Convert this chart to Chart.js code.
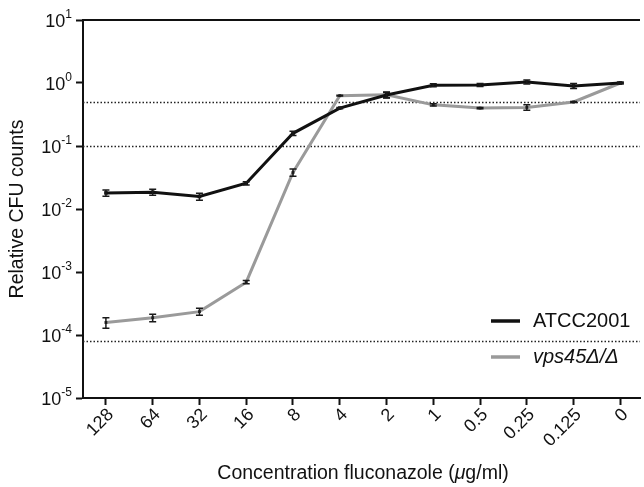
<!DOCTYPE html>
<html>
<head>
<meta charset="utf-8">
<script src="https://cdn.jsdelivr.net/npm/chart.js@4.4.0/dist/chart.umd.min.js"></script>
<style>
  body { margin: 0; background: #fff; }
  #wrap { width: 644px; height: 487px; position: relative; }
</style>
</head>
<body>
<div id="wrap"><canvas id="myChart" width="644" height="487"></canvas></div>
<script>
// doses in ug/ml, high to low
const doses = ["128", "64", "32", "16", "8", "4", "2", "1", "0.5", "0.25", "0.125", "0"];

const atcc = [0.018, 0.0185, 0.0158, 0.0256, 0.159, 0.40, 0.645, 0.92, 0.93, 1.04, 0.90, 1.0];
const atccErr = [0.002, 0.002, 0.002, 0.0015, 0.012, 0.01, 0.06, 0.05, 0.05, 0.08, 0.08, 0.04];

const vps45 = [0.000158, 0.000188, 0.000235, 0.00069, 0.038, 0.63, 0.65, 0.45, 0.40, 0.41, 0.50, 1.0];
const vps45Err = [0.00003, 0.000025, 0.00003, 0.00004, 0.005, 0.01, 0.07, 0.02, 0.01, 0.04, 0.01, 0.01];

const yTicks = [1e-5, 1e-4, 1e-3, 1e-2, 1e-1, 1, 10];
const yExp = ["-5", "-4", "-3", "-2", "-1", "0", "1"];
const cutoffs = [0.5, 0.1, 0.00008];

const FONT = "'Liberation Sans', Arial, sans-serif";

function toPts(arr) {
  return arr.map((v, i) => ({ x: i, y: v }));
}

const extras = {
  id: "extras",
  beforeDatasetsDraw(chart) {
    const ctx = chart.ctx;
    const { left, right, top } = chart.chartArea;
    const y = chart.scales.y;
    ctx.save();
    // dotted cut-off lines
    ctx.strokeStyle = "#222";
    ctx.lineWidth = 1.3;
    ctx.setLineDash([1.5, 2]);
    cutoffs.forEach((c) => {
      const py = Math.round(y.getPixelForValue(c)) + 0.5;
      ctx.beginPath();
      ctx.moveTo(left, py);
      ctx.lineTo(right, py);
      ctx.stroke();
    });
    ctx.setLineDash([]);
    // top frame line
    ctx.lineWidth = 2;
    ctx.strokeStyle = "#111";
    ctx.beginPath();
    ctx.moveTo(left - 1, top);
    ctx.lineTo(right, top);
    ctx.stroke();
    ctx.restore();
  },
  afterDatasetsDraw(chart) {
    const ctx = chart.ctx;
    const x = chart.scales.x;
    const y = chart.scales.y;
    ctx.save();
    ctx.strokeStyle = "#1a1a1a";
    ctx.lineWidth = 1.5;
    [[vps45, vps45Err], [atcc, atccErr]].forEach(([vals, errs]) => {
      vals.forEach((v, i) => {
        const px = x.getPixelForValue(i);
        const y1 = y.getPixelForValue(v + errs[i]);
        const y2 = y.getPixelForValue(Math.max(v - errs[i], 1e-6));
        ctx.beginPath();
        ctx.moveTo(px, y1);
        ctx.lineTo(px, y2);
        ctx.moveTo(px - 3.5, y1);
        ctx.lineTo(px + 3.5, y1);
        ctx.moveTo(px - 3.5, y2);
        ctx.lineTo(px + 3.5, y2);
        ctx.stroke();
      });
    });
    ctx.restore();
  },
  afterDraw(chart) {
    const ctx = chart.ctx;
    const x = chart.scales.x;
    const y = chart.scales.y;
    ctx.save();
    ctx.fillStyle = "#111";
    // y tick labels 10^n
    yTicks.forEach((t, i) => {
      const py = y.getPixelForValue(t);
      ctx.font = "12px " + FONT;
      ctx.textAlign = "right";
      ctx.textBaseline = "alphabetic";
      const expW = ctx.measureText(yExp[i]).width;
      ctx.fillText(yExp[i], 72, py - 2);
      ctx.font = "18px " + FONT;
      ctx.fillText("10", 72 - expW, py + 7);
    });
    // x tick labels rotated
    ctx.font = "18px " + FONT;
    doses.forEach((d, i) => {
      const px = x.getPixelForValue(i);
      ctx.save();
      ctx.translate(px + 5, 412);
      ctx.rotate(-Math.PI / 4);
      ctx.textAlign = "right";
      ctx.textBaseline = "middle";
      ctx.fillText(d, 0, 0);
      ctx.restore();
    });
    // axis titles
    ctx.font = "19.5px " + FONT;
    ctx.save();
    ctx.translate(18, 209);
    ctx.rotate(-Math.PI / 2);
    ctx.textAlign = "center";
    ctx.textBaseline = "middle";
    ctx.fillText("Relative CFU counts", 0, 0);
    ctx.restore();

    const parts = [
      ["Concentration fluconazole (", ""],
      ["\u03bc", "italic "],
      ["g/ml)", ""]
    ];
    let total = 0;
    parts.forEach((p) => {
      ctx.font = p[1] + "19.5px " + FONT;
      total += ctx.measureText(p[0]).width;
    });
    let cx = 363 - total / 2;
    ctx.textAlign = "left";
    ctx.textBaseline = "middle";
    parts.forEach((p) => {
      ctx.font = p[1] + "19.5px " + FONT;
      ctx.fillText(p[0], cx, 474);
      cx += ctx.measureText(p[0]).width;
    });

    // legend
    ctx.lineWidth = 3.5;
    ctx.strokeStyle = "#111";
    ctx.beginPath();
    ctx.moveTo(491, 321);
    ctx.lineTo(520, 321);
    ctx.stroke();
    ctx.strokeStyle = "#9a9a9a";
    ctx.beginPath();
    ctx.moveTo(491, 357);
    ctx.lineTo(520, 357);
    ctx.stroke();
    ctx.font = "20px " + FONT;
    ctx.fillText("ATCC2001", 533, 321);
    ctx.font = "italic 20px " + FONT;
    ctx.fillText("vps45\u0394/\u0394", 533, 357);
    ctx.restore();
  }
};

const grafica = document.getElementById("myChart").getContext("2d");

const myChart = new Chart(grafica, {
  type: "line",
  data: {
    datasets: [
      {
        label: "ATCC2001",
        data: toPts(atcc),
        borderColor: "#111",
        backgroundColor: "#111",
        borderWidth: 3,
        pointStyle: "rect",
        pointRadius: 2.5,
        pointBorderWidth: 0,
        tension: 0,
        order: 1
      },
      {
        label: "vps45\u0394/\u0394",
        data: toPts(vps45),
        borderColor: "#9a9a9a",
        backgroundColor: "#222",
        borderWidth: 3,
        pointStyle: "rect",
        pointRadius: 2,
        pointBorderWidth: 0,
        tension: 0,
        order: 2
      }
    ]
  },
  options: {
    responsive: false,
    animation: false,
    devicePixelRatio: 1,
    layout: { padding: { top: 20, right: 0, bottom: 0, left: 0 } },
    plugins: {
      legend: { display: false },
      tooltip: { enabled: false }
    },
    scales: {
      x: {
        type: "linear",
        min: -0.49,
        max: 11.42,
        afterBuildTicks: (scale) => {
          scale.ticks = doses.map((d, i) => ({ value: i }));
        },
        afterFit: (scale) => { scale.height = 89; },
        ticks: { callback: () => "", autoSkip: false, maxRotation: 0 },
        grid: { drawOnChartArea: false, drawTicks: true, tickLength: 7, tickWidth: 2, tickColor: "#111" },
        border: { display: true, color: "#111", width: 2 }
      },
      y: {
        type: "logarithmic",
        min: 1e-5,
        max: 10,
        afterBuildTicks: (scale) => {
          scale.ticks = yTicks.map((t) => ({ value: t }));
        },
        afterFit: (scale) => { scale.width = 83; },
        ticks: { callback: () => "" },
        grid: { drawOnChartArea: false, drawTicks: true, tickLength: 7, tickWidth: 2, tickColor: "#111" },
        border: { display: true, color: "#111", width: 2 }
      }
    }
  },
  plugins: [extras]
});
</script>
</body>
</html>
